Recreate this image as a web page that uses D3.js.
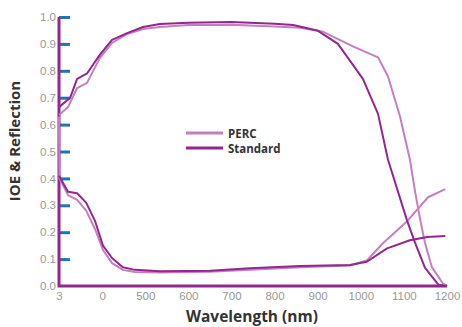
<!DOCTYPE html>
<html>
<head>
<meta charset="utf-8">
<script src="https://cdn.jsdelivr.net/npm/d3@7"></script>
<style>
  body { margin: 0; background: #fff; }
  svg { display: block; font-family: "Open Sans", sans-serif; }
</style>
</head>
<body>
<div id="chart"></div>
<script>
// wavelength (nm), value
var perc_iqe = [[300,0.636],[321,0.665],[342,0.736],[365,0.755],[395,0.848],[423,0.904],[458,0.937],[495,0.955],[534,0.963],[600,0.97],[700,0.971],[800,0.965],[860,0.96],[913,0.945],[983,0.89],[1040,0.85],[1063,0.78],[1091,0.63],[1114,0.47],[1126,0.35],[1138,0.245],[1149,0.16],[1165,0.07],[1190,0.01],[1200,0.0]];
var std_iqe = [[300,0.665],[326,0.70],[342,0.77],[365,0.79],[395,0.86],[423,0.915],[458,0.94],[495,0.963],[534,0.974],[600,0.979],[700,0.981],[800,0.975],[843,0.97],[899,0.95],[947,0.90],[1005,0.77],[1040,0.64],[1063,0.47],[1107,0.245],[1126,0.16],[1149,0.067],[1180,0.005],[1200,0.0]];
var perc_refl = [[300,0.63],[301,0.40],[321,0.338],[342,0.32],[363,0.28],[384,0.21],[402,0.134],[423,0.085],[448,0.06],[476,0.052],[534,0.05],[650,0.053],[743,0.06],[860,0.07],[975,0.076],[1014,0.095],[1052,0.16],[1107,0.24],[1156,0.33],[1196,0.36]];
var std_refl = [[300,0.41],[321,0.35],[342,0.345],[363,0.31],[384,0.24],[402,0.15],[423,0.104],[448,0.07],[476,0.06],[534,0.055],[650,0.057],[743,0.066],[860,0.074],[975,0.078],[1014,0.09],[1061,0.14],[1114,0.17],[1154,0.182],[1196,0.186]];

var xTicks = [300, 400, 500, 600, 700, 800, 900, 1000, 1100, 1200];
var xTickLabels = ["3", "0", "500", "600", "700", "800", "900", "1000", "1100", "1200"];
var yTicks = [0, 0.1, 0.2, 0.3, 0.4, 0.5, 0.6, 0.7, 0.8, 0.9, 1.0];
var legendNames = ["PERC", "Standard"];

var width = 462, height = 327;
var purple = "#93278f", lilac = "#c47fc0", blue = "#1b75bc";

var x = d3.scaleLinear().domain([300, 1200]).range([59, 447]);
var y = d3.scaleLinear().domain([0, 1]).range([286, 17]);

var svg = d3.select("#chart").append("svg")
    .attr("width", width)
    .attr("height", height);

// y axis ticks (blue, pointing inward)
var yAxis = svg.append("g")
    .attr("transform", "translate(59,0)")
    .call(d3.axisLeft(y).tickValues(yTicks).tickSizeInner(-11).tickSizeOuter(0).tickPadding(3)
      .tickFormat(d3.format(".1f")));
yAxis.select(".domain").remove();
yAxis.selectAll(".tick line")
    .attr("stroke", blue)
    .attr("stroke-width", 3)
    .filter(function(d) { return d === 0; }).remove();
yAxis.selectAll(".tick text")
    .attr("fill", "#999")
    .style("font-size", "11.5px");

// x axis labels
var xAxis = svg.append("g")
    .attr("transform", "translate(0,286)")
    .call(d3.axisBottom(x).tickValues(xTicks).tickSize(0).tickPadding(6)
      .tickFormat(function(d, i) { return xTickLabels[i]; }));
xAxis.select(".domain").remove();
xAxis.selectAll(".tick text")
    .attr("fill", "#999")
    .style("font-size", "11.5px");

var line = d3.line()
    .x(function(d) { return x(d[0]); })
    .y(function(d) { return y(d[1]); });

// axis lines
svg.append("path")
    .attr("d", "M" + x(300) + "," + y(1) + "V" + y(0) + "H" + x(1200))
    .attr("fill", "none")
    .attr("stroke", purple)
    .attr("stroke-width", 3);

var series = [
  {data: perc_refl, color: lilac},
  {data: perc_iqe, color: lilac},
  {data: std_refl, color: purple},
  {data: std_iqe, color: purple}
];

svg.selectAll(".curve")
    .data(series)
    .enter().append("path")
      .attr("class", "curve")
      .attr("d", function(d) { return line(d.data); })
      .attr("fill", "none")
      .attr("stroke", function(d) { return d.color; })
      .attr("stroke-width", 2)
      .attr("stroke-linejoin", "round");

// legend
var legend = svg.selectAll(".legend")
    .data(legendNames)
    .enter().append("g")
      .attr("class", "legend")
      .attr("transform", function(d, i) { return "translate(186," + (133 + i * 15) + ")"; });

legend.append("line")
    .attr("x1", 0).attr("x2", 37)
    .attr("stroke", function(d, i) { return i === 0 ? lilac : purple; })
    .attr("stroke-width", 3);

legend.append("text")
    .attr("x", 42)
    .attr("y", 4.5)
    .attr("fill", "#333")
    .style("font-size", "11.5px")
    .style("font-weight", "bold")
    .text(function(d) { return d; });

// titles
svg.append("text")
    .attr("transform", "translate(20,141) rotate(-90)")
    .attr("text-anchor", "middle")
    .attr("fill", "#333")
    .style("font-size", "15px")
    .style("font-weight", "bold")
    .text("IOE & Reflection");

svg.append("text")
    .attr("x", 252)
    .attr("y", 322)
    .attr("text-anchor", "middle")
    .attr("fill", "#333")
    .style("font-size", "15.5px")
    .style("font-weight", "bold")
    .text("Wavelength (nm)");
</script>
</body>
</html>
